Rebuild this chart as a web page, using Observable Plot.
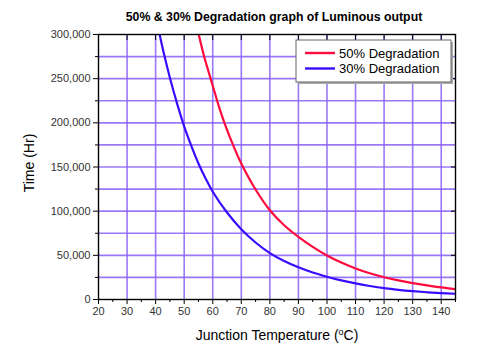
<!DOCTYPE html>
<html>
<head>
<meta charset="utf-8">
<script src="https://cdn.jsdelivr.net/npm/d3@7"></script>
<script src="https://cdn.jsdelivr.net/npm/@observablehq/plot@0.6"></script>
<style>
  html, body { margin: 0; padding: 0; background: #fff; }
  svg text { font-family: "Liberation Sans", Arial, sans-serif; }
</style>
</head>
<body>
<div id="chart"></div>
<script>
const title = "50% & 30% Degradation graph of Luminous output";
const seriesNames = ["50% Degradation", "30% Degradation"];
const seriesColors = ["#ff0a3c", "#3a0cff"];

const temp50 = [55.1, 57, 60, 62.5, 65, 67.5, 70, 75, 80, 85, 90, 95, 100, 105, 110, 115, 120, 125, 130, 135, 140, 145];
const hours50 = [300000, 275000, 242000, 215000, 192000, 172000, 154000, 124500, 101000, 84000, 70800, 59500, 49800, 41800, 35200, 29700, 25200, 21600, 18600, 16000, 13700, 11800];

const temp30 = [41.4, 43, 45, 47.5, 50, 52.5, 55, 57.5, 60, 65, 70, 75, 80, 85, 90, 95, 100, 105, 110, 115, 120, 125, 130, 135, 140, 145];
const hours30 = [300000, 277000, 251000, 222000, 196000, 174000, 154000, 137000, 122000, 98500, 79500, 64500, 52500, 43500, 36400, 30500, 25800, 21700, 18200, 15300, 12800, 10900, 9400, 8200, 7200, 6500];

const xMajor = d3.range(20, 141, 10);
const xMinor = d3.range(25, 146, 10);
const yMajor = d3.range(0, 300001, 50000);
const yMinor = d3.range(25000, 300000, 50000);
const xGrid = d3.range(30, 141, 10);
const yGrid = d3.range(25000, 275001, 25000);

const data = [
  ...temp50.map((t, i) => ({t, h: hours50[i], s: seriesNames[0]})),
  ...temp30.map((t, i) => ({t, h: hours30[i], s: seriesNames[1]}))
];

const gridColor = "#8a60f7";
const fmt = d3.format(",");

const plot = Plot.plot({
  width: 480,
  height: 352,
  marginLeft: 98,
  marginRight: 25,
  marginTop: 34,
  marginBottom: 53,
  style: {fontFamily: "Liberation Sans, Arial, sans-serif", background: "#fff"},
  x: {domain: [20, 145]},
  y: {domain: [0, 300000]},
  color: {domain: seriesNames, range: seriesColors},
  marks: [
    Plot.gridX(xGrid, {stroke: gridColor, strokeOpacity: 0.85, strokeWidth: 1.6}),
    Plot.gridY(yGrid, {stroke: gridColor, strokeOpacity: 0.85, strokeWidth: 1.6}),
    Plot.line(data, {x: "t", y: "h", stroke: "s", strokeWidth: 2.2, curve: "catmull-rom", clip: true}),
    Plot.frame({stroke: "#000", strokeWidth: 1.4}),
    Plot.axisX({ticks: xMajor, tickSize: 5, tickPadding: 3, fontSize: 11, tickFormat: d => d, label: null}),
    Plot.axisX({ticks: xMinor, tickSize: 3, tickFormat: () => "", label: null}),
    Plot.axisX({anchor: "top", ticks: xMajor, tickSize: -5, tickFormat: () => "", label: null}),
    Plot.axisY({ticks: yMajor, tickSize: 5, tickPadding: 3, fontSize: 11, tickFormat: fmt, label: null}),
    Plot.axisY({ticks: yMinor, tickSize: 3, tickFormat: () => "", label: null}),
    Plot.axisY({anchor: "right", ticks: yMajor, tickSize: -5, tickFormat: () => "", label: null})
  ]
});

document.getElementById("chart").appendChild(plot);
const svg = d3.select(plot);
svg.selectAll("g[aria-label='x-axis tick label'] text, g[aria-label='y-axis tick label'] text").attr("fill", "#333");

svg.append("text").attr("x", 274).attr("y", 21).attr("text-anchor", "middle")
  .attr("font-size", 12.3).attr("font-weight", "bold").attr("fill", "#000").text(title);

const xl = svg.append("text").attr("x", 277).attr("y", 340).attr("text-anchor", "middle")
  .attr("font-size", 14).attr("fill", "#000");
xl.append("tspan").text("Junction Temperature (");
xl.append("tspan").attr("dy", -5).attr("font-size", 9).text("o");
xl.append("tspan").attr("dy", 5).text("C)");

svg.append("text").attr("transform", "translate(34,163) rotate(-90)").attr("text-anchor", "middle")
  .attr("font-size", 14).attr("fill", "#000").text("Time (Hr)");

// legend
const lg = svg.append("g");
lg.append("rect").attr("x", 298).attr("y", 42).attr("width", 155).attr("height", 42).attr("fill", "#aaa");
lg.append("rect").attr("x", 296).attr("y", 40).attr("width", 155).attr("height", 42)
  .attr("fill", "#fff").attr("stroke", "#666").attr("stroke-width", 1);
seriesNames.forEach((name, i) => {
  const yy = 53 + i * 15.5;
  lg.append("line").attr("x1", 305).attr("x2", 335).attr("y1", yy).attr("y2", yy)
    .attr("stroke", seriesColors[i]).attr("stroke-width", 2.4);
  lg.append("text").attr("x", 339).attr("y", yy + 4.5).attr("text-anchor", "start")
    .attr("font-size", 13).attr("fill", "#000").text(name);
});
</script>
</body>
</html>
